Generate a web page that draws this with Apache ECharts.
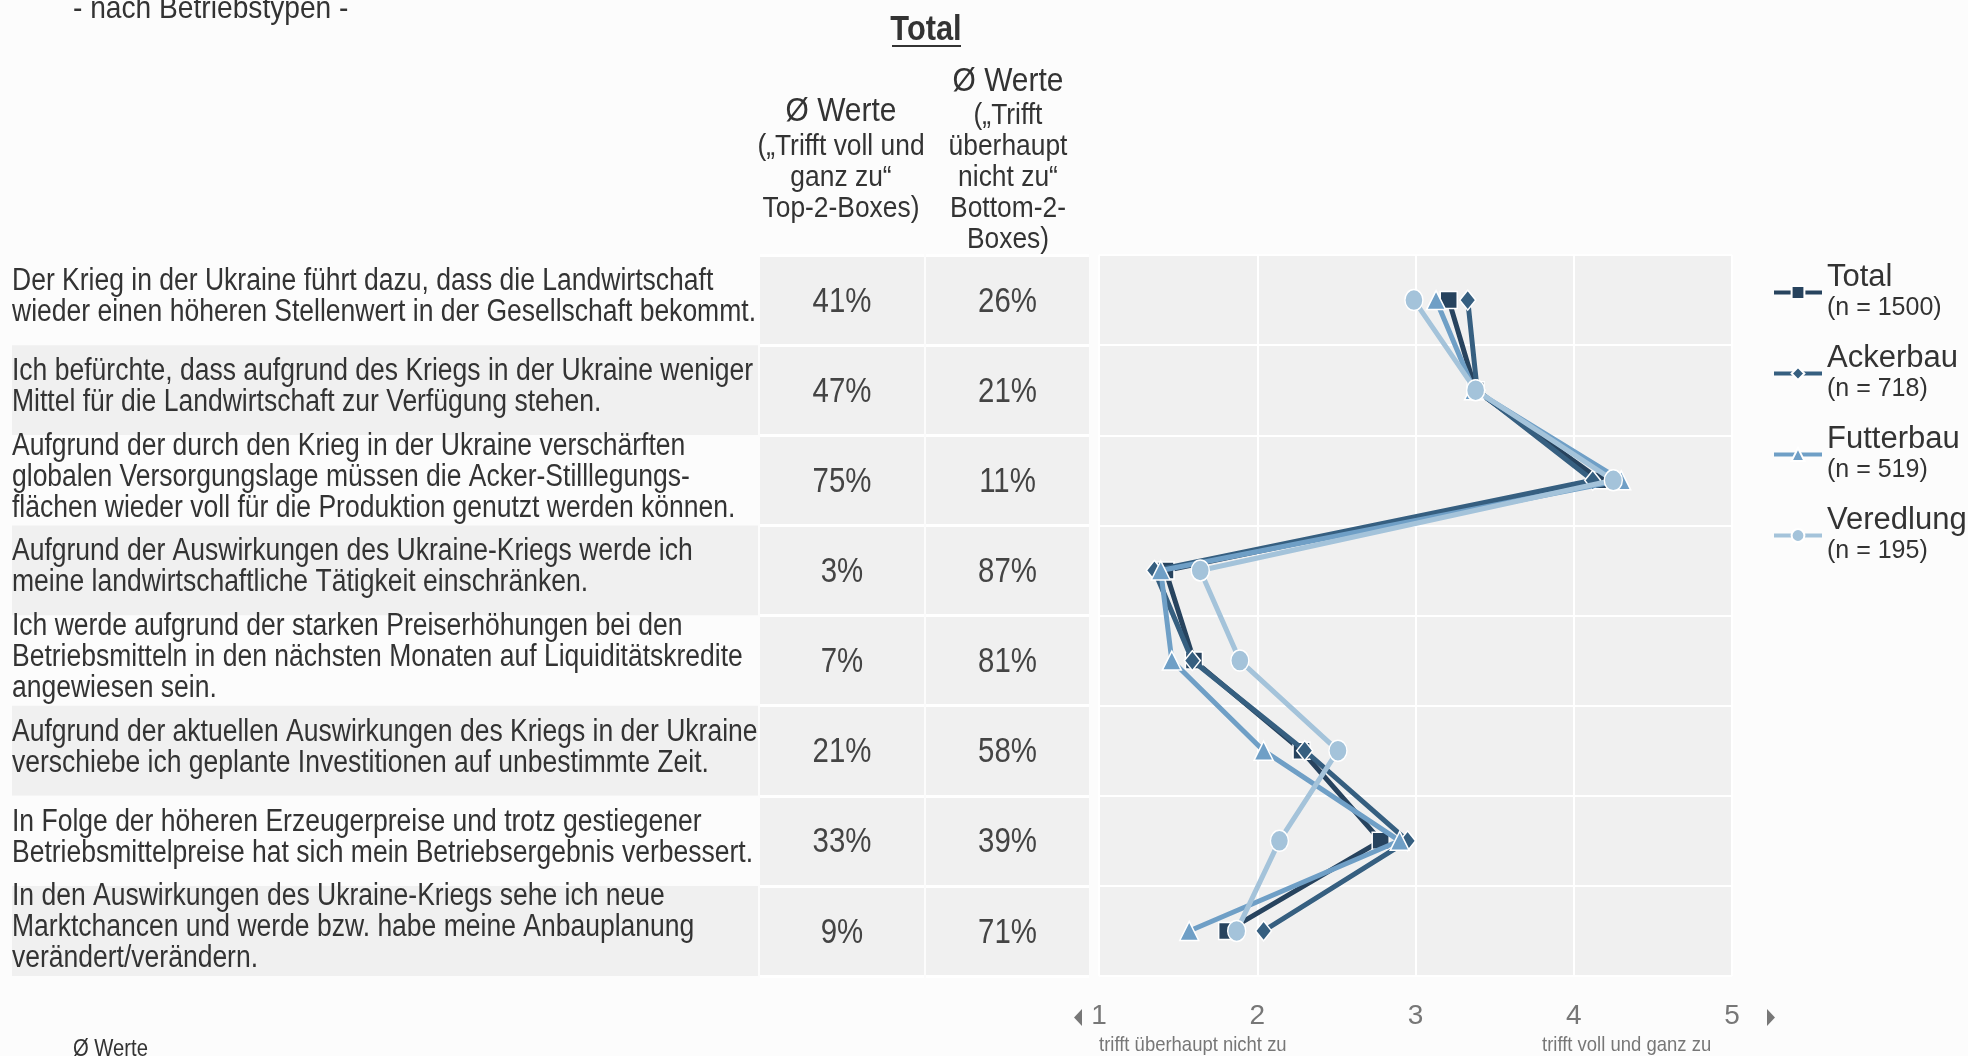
<!DOCTYPE html>
<html>
<head>
<meta charset="utf-8">
<script src="https://cdn.jsdelivr.net/npm/echarts@6/dist/echarts.min.js"></script>
<style>
  html, body { margin: 0; padding: 0; background: #fcfcfc; }
  #chart { width: 1968px; height: 1056px; }
</style>
</head>
<body>
<div id="chart"></div>
<script>
// Aussagen (Zeilen)
const statements = [
  'Der Krieg in der Ukraine führt dazu, dass die Landwirtschaft\nwieder einen höheren Stellenwert in der Gesellschaft bekommt.',
  'Ich befürchte, dass aufgrund des Kriegs in der Ukraine weniger\nMittel für die Landwirtschaft zur Verfügung stehen.',
  'Aufgrund der durch den Krieg in der Ukraine verschärften\nglobalen Versorgungslage müssen die Acker-Stilllegungs-\nflächen wieder voll für die Produktion genutzt werden können.',
  'Aufgrund der Auswirkungen des Ukraine-Kriegs werde ich\nmeine landwirtschaftliche Tätigkeit einschränken.',
  'Ich werde aufgrund der starken Preiserhöhungen bei den\nBetriebsmitteln in den nächsten Monaten auf Liquiditätskredite\nangewiesen sein.',
  'Aufgrund der aktuellen Auswirkungen des Kriegs in der Ukraine\nverschiebe ich geplante Investitionen auf unbestimmte Zeit.',
  'In Folge der höheren Erzeugerpreise und trotz gestiegener\nBetriebsmittelpreise hat sich mein Betriebsergebnis verbessert.',
  'In den Auswirkungen des Ukraine-Kriegs sehe ich neue\nMarktchancen und werde bzw. habe meine Anbauplanung\nverändert/verändern.'
];

// Top-2 / Bottom-2 (Total)
const top2 = [41, 47, 75, 3, 7, 21, 33, 9];
const bottom2 = [26, 21, 11, 87, 81, 58, 39, 71];

// Mittelwerte je Betriebstyp (1 = trifft überhaupt nicht zu, 5 = trifft voll und ganz zu)
const seriesNames = ['Total', 'Ackerbau', 'Futterbau', 'Veredlung'];
const sampleSizes = [1500, 718, 519, 195];
const total     = [3.21, 3.38, 4.17, 1.42, 1.60, 2.28, 2.78, 1.81];
const ackerbau  = [3.33, 3.39, 4.12, 1.35, 1.59, 2.30, 2.95, 2.04];
const futterbau = [3.13, 3.37, 4.30, 1.39, 1.46, 2.04, 2.90, 1.57];
const veredlung = [2.99, 3.38, 4.25, 1.64, 1.89, 2.51, 2.14, 1.87];

const xTicks = [1, 2, 3, 4, 5];

const FONT = '"Liberation Sans", Arial, sans-serif';
const colors = ['#27435e', '#365f80', '#6f9fc6', '#a4c3da'];
const symbols = ['rect', 'diamond', 'triangle', 'circle'];
const symbolSizes = [17, [16, 20], 19, [18, 21]];
const values = [total, ackerbau, futterbau, veredlung];

const TOP = 255, HEIGHT = 721;
const NARROW = 0.88; // Schrift im Original ist schmal

const chart = echarts.init(document.getElementById('chart'));

// Text pro Zeile über die Achsen der jeweiligen Tabellen-Spalte
const textSeries = (idx, items, opts) => ({
  type: 'custom',
  xAxisIndex: idx,
  yAxisIndex: idx,
  silent: true,
  data: items.map((v, i) => [0, i]),
  renderItem: (params, api) => {
    const i = api.value(1);
    const p = api.coord([api.value(0), i]);
    return {
      type: 'text',
      x: p[0],
      y: p[1] + opts.dy,
      scaleX: opts.scaleX,
      style: {
        text: opts.format(items[i]),
        fontFamily: FONT,
        fontSize: opts.fontSize,
        lineHeight: opts.lineHeight,
        fill: opts.color,
        align: opts.align,
        verticalAlign: 'middle'
      }
    };
  }
});

const narrowText = (x, y, text, size, extra) => ({
  type: 'text', x: x, y: y, scaleX: NARROW,
  style: Object.assign({ text: text, fontFamily: FONT, fontSize: size, fill: '#333', align: 'center', verticalAlign: 'middle' }, extra || {})
});

const option = {
  backgroundColor: '#fcfcfc',
  animation: false,
  grid: [
    { left: 12, top: TOP, width: 746, height: HEIGHT },
    { left: 760, top: TOP, width: 164, height: HEIGHT, show: true, backgroundColor: '#f0f0f0', borderWidth: 0 },
    { left: 926, top: TOP, width: 163, height: HEIGHT, show: true, backgroundColor: '#f0f0f0', borderWidth: 0 },
    { left: 1099, top: TOP, width: 633, height: HEIGHT, show: true, backgroundColor: '#f0f0f0', borderWidth: 0 }
  ],
  xAxis: [
    { gridIndex: 0, type: 'value', show: false, min: 0, max: 1 },
    { gridIndex: 1, type: 'category', data: ['top'], show: false },
    { gridIndex: 2, type: 'category', data: ['bottom'], show: false },
    {
      gridIndex: 3, type: 'value', min: xTicks[0], max: xTicks[xTicks.length - 1], interval: 1,
      axisLine: { show: false }, axisTick: { show: false },
      splitLine: { lineStyle: { color: '#ffffff', width: 2 } },
      axisLabel: { fontFamily: FONT, fontSize: 28, color: '#777', margin: 26 }
    }
  ],
  yAxis: [
    {
      gridIndex: 0, type: 'category', data: statements, inverse: true,
      axisLine: { show: false }, axisTick: { show: false }, splitLine: { show: false },
      axisLabel: { show: false },
      splitArea: { show: true, areaStyle: { color: ['#fcfcfc', '#f0f0f0'] } }
    },
    {
      gridIndex: 1, type: 'category', data: statements, inverse: true,
      axisLine: { show: false }, axisTick: { show: false }, axisLabel: { show: false },
      splitLine: { show: true, lineStyle: { color: '#ffffff', width: 3 } }
    },
    {
      gridIndex: 2, type: 'category', data: statements, inverse: true,
      axisLine: { show: false }, axisTick: { show: false }, axisLabel: { show: false },
      splitLine: { show: true, lineStyle: { color: '#ffffff', width: 3 } }
    },
    {
      gridIndex: 3, type: 'category', data: statements, inverse: true,
      axisLine: { show: false }, axisTick: { show: false }, axisLabel: { show: false },
      splitLine: { show: true, lineStyle: { color: '#ffffff', width: 2 } }
    }
  ],
  legend: {
    orient: 'vertical',
    left: 1767,
    top: 257,
    itemWidth: 48,
    itemHeight: 16,
    itemGap: 22,
    data: seriesNames,
    lineStyle: { width: 4 },
    formatter: name => '{a|' + name + '}\n{b|(n = ' + sampleSizes[seriesNames.indexOf(name)] + ')}',
    textStyle: {
      fontFamily: FONT,
      color: '#333',
      rich: {
        a: { fontFamily: FONT, fontSize: 31, lineHeight: 32, color: '#333' },
        b: { fontFamily: FONT, fontSize: 25, lineHeight: 30, color: '#333' }
      }
    }
  },
  series: [
    textSeries(0, statements, { scaleX: 0.855, fontSize: 31, lineHeight: 31, color: '#333', align: 'left', dy: -3, format: s => s }),
    textSeries(1, top2, { scaleX: 0.84, fontSize: 35, lineHeight: 35, color: '#444', align: 'center', dy: 2, format: v => v + '%' }),
    textSeries(2, bottom2, { scaleX: 0.84, fontSize: 35, lineHeight: 35, color: '#444', align: 'center', dy: 2, format: v => v + '%' }),
    ...seriesNames.map((name, k) => ({
      name: name,
      type: 'line',
      xAxisIndex: 3,
      yAxisIndex: 3,
      data: values[k].map((v, i) => [v, i]),
      symbol: symbols[k],
      symbolSize: symbolSizes[k],
      color: colors[k],
      lineStyle: { width: 5, color: colors[k] },
      itemStyle: { color: colors[k], borderColor: '#ffffff', borderWidth: 1.5 },
      z: 3 + k
    }))
  ],
  graphic: [
    narrowText(73, 9, '- nach Betriebstypen -', 32, { align: 'left' }),
    narrowText(926, 30, 'Total', 35, { fontWeight: 'bold' }),
    { type: 'line', shape: { x1: 892, y1: 46, x2: 961, y2: 46 }, style: { stroke: '#333', lineWidth: 2 } },
    narrowText(841, 112, 'Ø Werte', 34),
    narrowText(841, 178, '(„Trifft voll und\nganz zu“\nTop-2-Boxes)', 30, { lineHeight: 31 }),
    narrowText(1008, 82, 'Ø Werte', 34),
    narrowText(1008, 178, '(„Trifft\nüberhaupt\nnicht zu“\nBottom-2-\nBoxes)', 30, { lineHeight: 31 }),
    { type: 'polygon', shape: { points: [[1082, 1009], [1082, 1026], [1074, 1017.5]] }, style: { fill: '#777' } },
    { type: 'polygon', shape: { points: [[1767, 1009], [1767, 1026], [1775, 1017.5]] }, style: { fill: '#777' } },
    narrowText(1099, 1045, 'trifft überhaupt nicht zu', 21, { align: 'left', fill: '#777' }),
    narrowText(1542, 1045, 'trifft voll und ganz zu', 21, { align: 'left', fill: '#777' }),
    narrowText(73, 1050, 'Ø Werte', 23, { align: 'left' })
  ]
};

chart.setOption(option);
window.addEventListener('resize', () => chart.resize());
</script>
</body>
</html>
